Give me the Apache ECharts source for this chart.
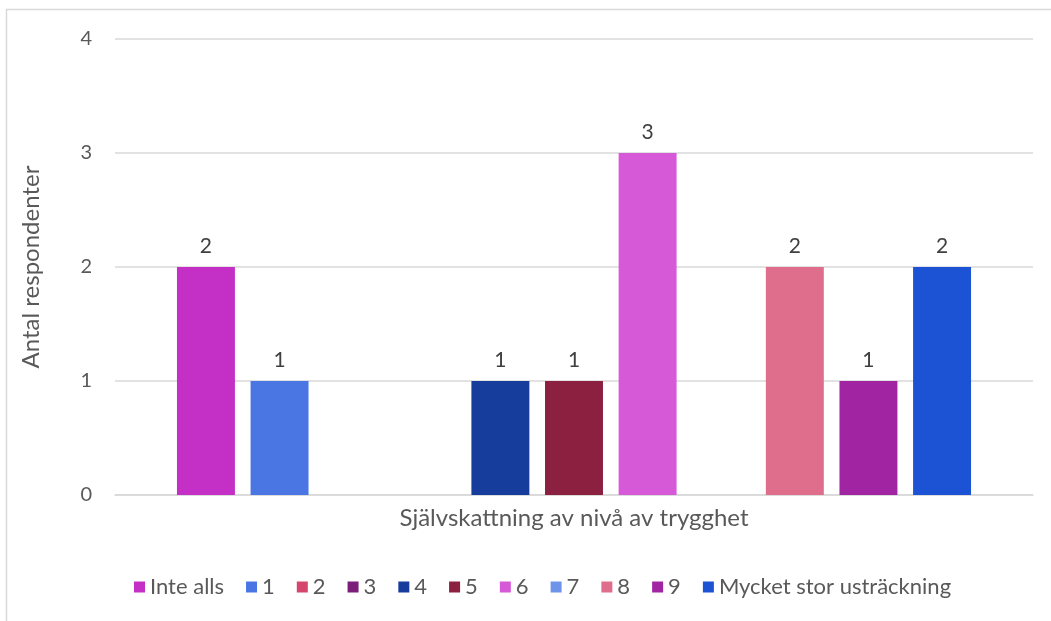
<!DOCTYPE html>
<html>
<head>
<meta charset="utf-8">
<script src="https://cdn.jsdelivr.net/npm/echarts@6/dist/echarts.min.js"></script>
<style>
  html, body { margin: 0; padding: 0; background: #fff; }
  #chart { width: 1051px; height: 621px; }
</style>
</head>
<body>
<div id="chart"></div>
<script>
// data
var categories = ['Självskattning av nivå av trygghet'];
var seriesNames = ['Inte alls', '1', '2', '3', '4', '5', '6', '7', '8', '9', 'Mycket stor usträckning'];
var seriesValues = [2, 1, 0, 0, 1, 1, 3, 0, 2, 1, 2];
var seriesColors = ['#c42fc6', '#4a76e4', '#d6456e', '#7a1e7a', '#163c9c', '#8c2040',
                    '#d65ad8', '#6e93eb', '#df6e8c', '#a125a3', '#1c53d4'];
var yTicks = [0, 1, 2, 3, 4];

var fontName = 'Lato, "Open Sans", sans-serif';

var chart = echarts.init(document.getElementById('chart'));

var series = seriesNames.map(function (name, i) {
	return {
		name: name,
		type: 'bar',
		barGap: '27%',
		barCategoryGap: '13.5%',
		itemStyle: { color: seriesColors[i] },
		label: {
			show: true,
			position: 'top',
			distance: 10,
			color: '#404040',
			fontSize: 21,
			fontFamily: fontName,
			formatter: function (p) { return p.value ? p.value : ''; }
		},
		data: [seriesValues[i]]
	};
});

var option = {
	animation: false,
	backgroundColor: '#fff',
	textStyle: { fontFamily: fontName },
	graphic: [{
		type: 'rect',
		shape: { x: 6.5, y: 9.5, width: 1100, height: 700 },
		style: { fill: 'none', stroke: '#d9d9d9', lineWidth: 1.5 },
		silent: true
	}],
	grid: { left: 115, right: 18, top: 39, bottom: 126 },
	legend: {
		bottom: 18,
		left: 129,
		itemWidth: 11,
		itemHeight: 11,
		itemGap: 22,
		icon: 'rect',
		textStyle: { color: '#595959', fontSize: 22, fontFamily: fontName },
		data: seriesNames
	},
	xAxis: {
		type: 'category',
		data: categories,
		axisLine: { show: true, lineStyle: { color: '#d9d9d9', width: 1.5 } },
		axisTick: { show: false },
		axisLabel: { color: '#595959', fontSize: 24, fontFamily: fontName, margin: 11 }
	},
	yAxis: {
		type: 'value',
		min: 0,
		max: yTicks[yTicks.length - 1],
		interval: 1,
		name: 'Antal respondenter',
		nameLocation: 'middle',
		nameGap: 72,
		nameTextStyle: { color: '#595959', fontSize: 24, fontFamily: fontName },
		axisLine: { show: false },
		axisTick: { show: false },
		axisLabel: { color: '#595959', fontSize: 20, margin: 23 },
		splitLine: { lineStyle: { color: '#d9d9d9', width: 1.5 } }
	},
	series: series
};

chart.setOption(option);
</script>
</body>
</html>
